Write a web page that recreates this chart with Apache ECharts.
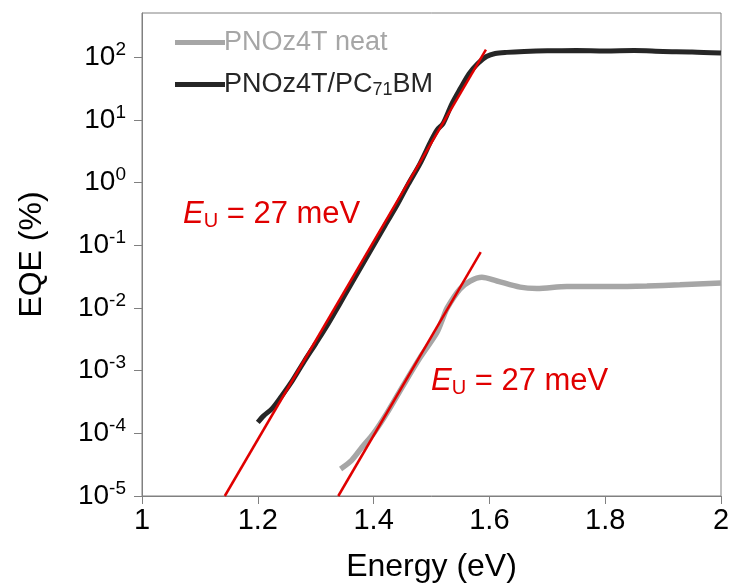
<!DOCTYPE html>
<html>
<head>
<meta charset="utf-8">
<script src="https://cdn.jsdelivr.net/npm/echarts@6/dist/echarts.min.js"></script>
<style>
  html, body { margin: 0; padding: 0; background: #fff; }
  #main { width: 734px; height: 585px; }
</style>
</head>
<body>
<div id="main"></div>
<script>
// photon energy (eV) and EQE (%)
const blendEnergy = [1.200, 1.210, 1.225, 1.240, 1.260, 1.280, 1.300, 1.320, 1.340, 1.360, 1.380, 1.400,
  1.420, 1.440, 1.460, 1.480, 1.500, 1.510, 1.520, 1.535, 1.550, 1.565, 1.580, 1.595, 1.610, 1.630,
  1.660, 1.700, 1.750, 1.800, 1.850, 1.900, 1.950, 2.000]
const blendEqe = [1.5e-4, 1.9e-4, 2.5e-4, 3.8e-4, 7.0e-4, 1.4e-3, 2.7e-3, 5.3e-3, 1.1e-2, 2.3e-2, 4.8e-2, 0.10,
  0.21, 0.43, 0.95, 2.0, 4.8, 7.0, 8.8, 18, 32, 55, 80, 103, 115, 120,
  124, 127, 128, 126, 128, 124, 122, 117]

const neatEnergy = [1.343, 1.362, 1.380, 1.400, 1.423, 1.452, 1.480, 1.509, 1.520, 1.527, 1.549, 1.567,
  1.587, 1.613, 1.653, 1.682, 1.734, 1.814, 1.872, 1.929, 2.000]
const neatEqe = [2.7e-5, 3.7e-5, 6.0e-5, 1.0e-4, 2.1e-4, 6.0e-4, 1.6e-3, 4.0e-3, 7.0e-3, 1.0e-2, 2.0e-2, 2.7e-2,
  3.1e-2, 2.7e-2, 2.15e-2, 2.05e-2, 2.2e-2, 2.2e-2, 2.25e-2, 2.35e-2, 2.5e-2]

// Urbach tail fits (straight lines on the log scale), end points
const fitBlendEnergy = [1.143, 1.594]
const fitBlendEqe = [1e-5, 133]
const fitNeatEnergy = [1.339, 1.585]
const fitNeatEqe = [1e-5, 0.078]

const yTicks = [1e-5, 1e-4, 1e-3, 1e-2, 1e-1, 1, 10, 100]

const pairs = (xs, ys) => xs.map((x, i) => [x, ys[i]])

const FONT = 'Liberation Sans, Arial, sans-serif'
const RED = '#e00000'
const GRAY = '#a6a6a6'
const DARK = '#262626'

const eu = {
  e: { fontFamily: FONT, fontSize: 31, fontStyle: 'italic', fill: RED },
  u: { fontFamily: FONT, fontSize: 20, fill: RED, padding: [14, 0, 0, 0] },
  t: { fontFamily: FONT, fontSize: 31, fill: RED }
}

const myChart = echarts.init(document.getElementById('main'))
const option = {
  animation: false,
  backgroundColor: '#fff',
  textStyle: { fontFamily: FONT },
  grid: {
    left: 142,
    right: 13,
    top: 13,
    bottom: 89,
    outerBoundsMode: 'none',
    show: true,
    borderColor: '#808080',
    borderWidth: 1
  },
  legend: {
    left: 170,
    top: 24,
    orient: 'vertical',
    itemWidth: 50,
    itemHeight: 5,
    itemGap: 15,
    icon: 'rect',
    selectedMode: false,
    textStyle: {
      fontFamily: FONT,
      fontSize: 27,
      padding: [0, 0, 0, -6],
      rich: {
        sub: { fontFamily: FONT, fontSize: 18, color: DARK, padding: [12, 0, 0, 0] }
      }
    },
    formatter: name => name === 'PNOz4T/PC71BM' ? 'PNOz4T/PC{sub|71}BM' : name,
    data: [
      { name: 'PNOz4T neat', textStyle: { color: GRAY } },
      { name: 'PNOz4T/PC71BM', textStyle: { color: DARK } }
    ]
  },
  xAxis: {
    type: 'value',
    min: 1,
    max: 2,
    interval: 0.2,
    name: 'Energy (eV)',
    nameLocation: 'middle',
    nameGap: 55,
    nameTextStyle: { fontFamily: FONT, fontSize: 32, color: '#000' },
    axisLine: { show: true, lineStyle: { color: '#808080', width: 1 } },
    axisTick: { show: true, length: 8, lineStyle: { color: '#808080' } },
    axisLabel: {
      fontFamily: FONT,
      fontSize: 29,
      color: '#000',
      margin: 10,
      formatter: v => String(Math.round(v * 10) / 10)
    },
    splitLine: { show: false }
  },
  yAxis: {
    type: 'log',
    logBase: 10,
    min: 1e-5,
    max: 510,
    name: 'EQE (%)',
    nameLocation: 'middle',
    nameGap: 94,
    nameTextStyle: { fontFamily: FONT, fontSize: 32, color: '#000' },
    axisLine: { show: true, lineStyle: { color: '#808080', width: 1 } },
    axisTick: { show: true, length: 8, customValues: yTicks, lineStyle: { color: '#808080' } },
    axisLabel: {
      customValues: yTicks,
      fontFamily: FONT,
      fontSize: 28,
      color: '#000',
      margin: 16,
      formatter: v => '10{sup|' + Math.round(Math.log10(v)) + '}',
      rich: {
        sup: { fontFamily: FONT, fontSize: 19, color: '#000', padding: [0, 0, 15, 0] }
      }
    },
    splitLine: { show: false }
  },
  series: [
    {
      name: 'PNOz4T neat',
      type: 'line',
      data: pairs(neatEnergy, neatEqe),
      showSymbol: false,
      smooth: 0.3,
      color: GRAY,
      lineStyle: { color: GRAY, width: 5.5 },
      z: 2
    },
    {
      name: 'PNOz4T/PC71BM',
      type: 'line',
      data: pairs(blendEnergy, blendEqe),
      showSymbol: false,
      smooth: 0.3,
      color: DARK,
      lineStyle: { color: DARK, width: 5 },
      z: 3
    },
    {
      name: 'fit blend',
      type: 'line',
      data: pairs(fitBlendEnergy, fitBlendEqe),
      showSymbol: false,
      lineStyle: { color: RED, width: 2.5 },
      z: 4
    },
    {
      name: 'fit neat',
      type: 'line',
      data: pairs(fitNeatEnergy, fitNeatEqe),
      showSymbol: false,
      lineStyle: { color: RED, width: 2.5 },
      z: 4
    }
  ],
  graphic: [
    {
      type: 'text',
      left: 183,
      top: 199,
      style: { text: '{e|E}{u|U}{t| = 27 meV}', rich: eu }
    },
    {
      type: 'text',
      left: 431,
      top: 366,
      style: { text: '{e|E}{u|U}{t| = 27 meV}', rich: eu }
    }
  ]
}
myChart.setOption(option)
</script>
</body>
</html>
